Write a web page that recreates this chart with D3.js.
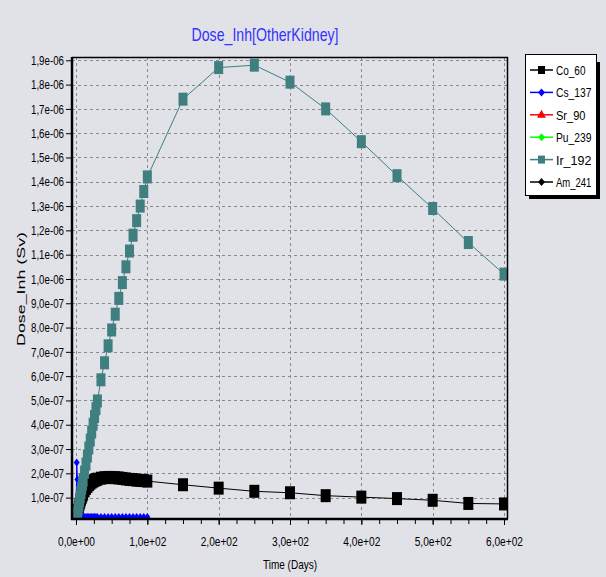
<!DOCTYPE html>
<html><head><meta charset="utf-8">
<script src="https://cdn.jsdelivr.net/npm/d3@7"></script>
<style>body{margin:0;background:#e1e1e8;}svg{display:block;}</style>
</head><body>
<script>
// ---------- data ----------
const times = [0,1,2,3,4,5,6,7,8,9,10,12,14,16,18,20,22,24,26,28,30,35,40,45,50,55,60,65,70,75,80,85,90,95,100,150,200,250,300,350,400,450,500,550,600];
const co60 = [0,0.18e-7,0.34e-7,0.48e-7,0.61e-7,0.73e-7,0.83e-7,0.93e-7,1.01e-7,1.09e-7,1.16e-7,1.28e-7,1.38e-7,1.46e-7,1.53e-7,1.59e-7,1.64e-7,1.68e-7,1.71e-7,1.74e-7,1.76e-7,1.80e-7,1.82e-7,1.83e-7,1.83e-7,1.82e-7,1.81e-7,1.79e-7,1.77e-7,1.75e-7,1.74e-7,1.72e-7,1.71e-7,1.70e-7,1.68e-7,1.53e-7,1.39e-7,1.26e-7,1.20e-7,1.08e-7,1.02e-7,0.96e-7,0.89e-7,0.76e-7,0.74e-7];
const cs137Times = [0,1,2,3,4,5,6,7,8,9,10,12,14,16,18,20,22,24,26,28,30,35,40,45,50,55,60,65,70,75,80,85,90,95,100];
const cs137 = [0,2.45e-7,1.75e-7,1.15e-7,0.62e-7,0.34e-7,0.25e-7,0.22e-7,0.21e-7,0.21e-7,0.2e-7,0.2e-7,0.2e-7,0.2e-7,0.2e-7,0.2e-7,0.2e-7,0.2e-7,0.2e-7,0.2e-7,0.2e-7,0.2e-7,0.2e-7,0.2e-7,0.2e-7,0.2e-7,0.2e-7,0.2e-7,0.2e-7,0.2e-7,0.2e-7,0.2e-7,0.2e-7,0.2e-7,0.2e-7];
const sr90 = [];
const pu239 = [];
const ir192 = [0,0.18e-7,0.36e-7,0.53e-7,0.70e-7,0.87e-7,1.04e-7,1.21e-7,1.38e-7,1.55e-7,1.72e-7,2.05e-7,2.38e-7,2.71e-7,3.04e-7,3.37e-7,3.70e-7,4.02e-7,4.34e-7,4.66e-7,4.98e-7,5.85e-7,6.55e-7,7.25e-7,7.90e-7,8.55e-7,9.20e-7,9.85e-7,1.05e-6,1.115e-6,1.18e-6,1.24e-6,1.30e-6,1.36e-6,1.42e-6,1.74e-6,1.87e-6,1.88e-6,1.81e-6,1.70e-6,1.565e-6,1.425e-6,1.29e-6,1.15e-6,1.02e-6];
const am241 = [];
const seriesNames = ["Co_60","Cs_137","Sr_90","Pu_239","Ir_192","Am_241"];
const yTickValues = [1e-7,2e-7,3e-7,4e-7,5e-7,6e-7,7e-7,8e-7,9e-7,1.0e-6,1.1e-6,1.2e-6,1.3e-6,1.4e-6,1.5e-6,1.6e-6,1.7e-6,1.8e-6,1.9e-6];
const yTickLabels = ["1,0e-07","2,0e-07","3,0e-07","4,0e-07","5,0e-07","6,0e-07","7,0e-07","8,0e-07","9,0e-07","1,0e-06","1,1e-06","1,2e-06","1,3e-06","1,4e-06","1,5e-06","1,6e-06","1,7e-06","1,8e-06","1,9e-06"];
const xTickValues = [0,100,200,300,400,500,600];
const xTickLabels = ["0,0e+00","1,0e+02","2,0e+02","3,0e+02","4,0e+02","5,0e+02","6,0e+02"];

// ---------- layout ----------
const W = 606, H = 577;
const L = 72, R = 508, T = 57, B = 519;
const FONT = "'Liberation Sans Narrow','Liberation Sans',Arial,sans-serif";

const svg = d3.select("body").append("svg").attr("width", W).attr("height", H);
svg.append("rect").attr("width", W).attr("height", H).attr("fill", "#e1e1e8");

const x = d3.scaleLinear().domain([-5.6, 605.6]).range([L, R]);
const y = d3.scaleLinear().domain([1.2e-8, 1.9136e-6]).range([B, T]);

svg.append("clipPath").attr("id", "clip").append("rect")
  .attr("x", L).attr("y", T).attr("width", R - L).attr("height", B - T);

// grid
const grid = svg.append("g").attr("stroke", "#8a8a8a").attr("stroke-dasharray", "3,3").attr("stroke-width", 1);
grid.selectAll("line.h").data(yTickValues).join("line")
  .attr("x1", L).attr("x2", R).attr("y1", d => Math.round(y(d)) + 0.5).attr("y2", d => Math.round(y(d)) + 0.5);
grid.selectAll("line.v").data(xTickValues).join("line")
  .attr("y1", T).attr("y2", B).attr("x1", d => Math.round(x(d)) + 0.5).attr("x2", d => Math.round(x(d)) + 0.5);

// axes
const yAxis = d3.axisLeft(y).tickValues(yTickValues).tickSize(6).tickPadding(2)
  .tickFormat((d, i) => yTickLabels[i]);
const gy = svg.append("g").attr("transform", `translate(${L},0)`).call(yAxis);
gy.select(".domain").remove();
gy.selectAll("line").attr("stroke", "#000");
gy.selectAll("text").attr("font-family", FONT).attr("font-size", 13).attr("fill", "#000")
  .attr("textLength", 33).attr("lengthAdjust", "spacingAndGlyphs");

const xMinor = d3.range(0, 601, 25);
const xAxisMinor = d3.axisBottom(x).tickValues(xMinor).tickSize(5).tickFormat("");
const gxm = svg.append("g").attr("transform", `translate(0,${B})`).call(xAxisMinor);
gxm.select(".domain").remove();
gxm.selectAll("line").attr("stroke", "#000");

const xAxis = d3.axisBottom(x).tickValues(xTickValues).tickSize(6).tickPadding(12)
  .tickFormat((d, i) => xTickLabels[i]);
const gx = svg.append("g").attr("transform", `translate(0,${B})`).call(xAxis);
gx.select(".domain").remove();
gx.selectAll("line").attr("stroke", "#000");
gx.selectAll("text").attr("font-family", FONT).attr("font-size", 13).attr("fill", "#000")
  .attr("textLength", 37).attr("lengthAdjust", "spacingAndGlyphs");

// series
const plot = svg.append("g").attr("clip-path", "url(#clip)");
const line = d3.line().x(d => x(d[0])).y(d => y(d[1]));

function drawSeries(ts, vals, color, marker, mw, mh) {
  const pts = ts.map((t, i) => [t, vals[i]]).filter(d => d[1] !== undefined);
  if (!pts.length) return;
  const g = plot.append("g");
  g.append("path").datum(pts).attr("d", line).attr("fill", "none").attr("stroke", color).attr("stroke-width", 1);
  if (marker === "square") {
    g.selectAll("rect").data(pts).join("rect")
      .attr("x", d => x(d[0]) - mw / 2).attr("y", d => y(d[1]) - mh / 2)
      .attr("width", mw).attr("height", mh).attr("fill", color);
  } else {
    g.selectAll("path.m").data(pts).join("path").attr("class", "m")
      .attr("d", d => {
        const cx = x(d[0]), cy = y(d[1]);
        return `M${cx},${cy - mh / 2}L${cx + mw / 2},${cy}L${cx},${cy + mh / 2}L${cx - mw / 2},${cy}Z`;
      }).attr("fill", color);
  }
}
const colors = ["#000000", "#0000ff", "#ff0000", "#00ff00", "#3f7f7f", "#000000"];
drawSeries(times, co60, colors[0], "square", 10, 13);
drawSeries(cs137Times, cs137, colors[1], "diamond", 6, 8);
drawSeries(times, sr90, colors[2], "diamond", 5, 7);
drawSeries(times, pu239, colors[3], "diamond", 5, 7);
drawSeries(times, ir192, colors[4], "square", 9, 13);
drawSeries(times, am241, colors[5], "diamond", 5, 7);

// frame
svg.append("line").attr("x1", L).attr("x2", R).attr("y1", T + 0.5).attr("y2", T + 0.5).attr("stroke", "#000").attr("stroke-width", 1.5);
svg.append("line").attr("x1", R - 0.5).attr("x2", R - 0.5).attr("y1", T).attr("y2", B).attr("stroke", "#000").attr("stroke-width", 1.5);
svg.append("line").attr("x1", L).attr("x2", L).attr("y1", T).attr("y2", B + 1).attr("stroke", "#000").attr("stroke-width", 2.5);
svg.append("line").attr("x1", L - 1).attr("x2", R).attr("y1", B).attr("y2", B).attr("stroke", "#000").attr("stroke-width", 2.5);

// title
svg.append("text").attr("x", 265).attr("y", 41).attr("text-anchor", "middle")
  .attr("font-family", FONT).attr("font-size", 19).attr("fill", "#3333ff")
  .attr("textLength", 147).attr("lengthAdjust", "spacingAndGlyphs")
  .text("Dose_Inh[OtherKidney]");

// axis titles
svg.append("text").attr("x", 290).attr("y", 569).attr("text-anchor", "middle")
  .attr("font-family", FONT).attr("font-size", 13).attr("fill", "#000")
  .attr("textLength", 54).attr("lengthAdjust", "spacingAndGlyphs")
  .text("Time (Days)");
svg.append("text").attr("transform", "translate(25,289) rotate(-90)").attr("text-anchor", "middle")
  .attr("font-family", "'Liberation Sans',Arial,sans-serif").attr("font-size", 11).attr("fill", "#000")
  .attr("textLength", 114).attr("lengthAdjust", "spacingAndGlyphs")
  .text("Dose_Inh (Sv)");

// legend
const lg = svg.append("g");
lg.append("rect").attr("x", 529).attr("y", 62).attr("width", 71).attr("height", 137).attr("fill", "#000");
lg.append("rect").attr("x", 525.5).attr("y", 54.5).attr("width", 71).attr("height", 141).attr("fill", "#fff").attr("stroke", "#000").attr("stroke-width", 1);
const legY = d3.scalePoint().domain(seriesNames).range([70, 182]);
const markerType = ["square", "diamond", "triangle", "diamond", "square", "diamond"];
seriesNames.forEach((name, i) => {
  const cy = legY(name);
  lg.append("line").attr("x1", 530).attr("x2", 553).attr("y1", cy).attr("y2", cy).attr("stroke", colors[i]).attr("stroke-width", 1.5);
  const mk = markerType[i];
  if (mk === "square") {
    lg.append("rect").attr("x", 538).attr("y", cy - 4).attr("width", 7).attr("height", 8).attr("fill", colors[i]);
  } else if (mk === "triangle") {
    lg.append("path").attr("d", `M541.5,${cy - 5}L546,${cy + 3}L537,${cy + 3}Z`).attr("fill", colors[i]);
  } else {
    lg.append("path").attr("d", `M541.5,${cy - 4}L545,${cy}L541.5,${cy + 4}L538,${cy}Z`).attr("fill", colors[i]);
  }
  lg.append("text").attr("x", 556).attr("y", cy + 5)
    .attr("font-family", FONT).attr("font-size", 13).attr("fill", "#000")
    .attr("textLength", name.length * 5.9).attr("lengthAdjust", "spacingAndGlyphs")
    .text(name);
});
</script>
</body></html>
